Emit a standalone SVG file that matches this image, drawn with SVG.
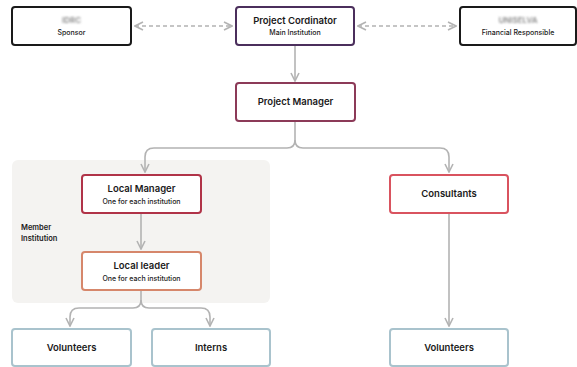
<svg xmlns="http://www.w3.org/2000/svg" width="577" height="367" viewBox="0 0 577 367">
<style>
.box{fill:#fff;stroke-width:2}
.t{font-family:Inter,"Liberation Sans",sans-serif;font-weight:600;font-size:9.5px;fill:#1a1a1a;text-anchor:middle}
.s{font-family:Inter,"Liberation Sans",sans-serif;font-weight:500;font-size:7px;fill:#1a1a1a;text-anchor:middle}
.bl{font-family:Inter,"Liberation Sans",sans-serif;font-weight:600;font-size:8px;fill:#8a8a8a;text-anchor:middle;filter:url(#blur)}
.c{fill:none;stroke:#b3b3b3;stroke-width:1.6}
.d{fill:none;stroke:#b3b3b3;stroke-width:1.4;stroke-dasharray:4 3}
.m{font-family:Inter,"Liberation Sans",sans-serif;font-weight:600;font-size:7.5px;fill:#1a1a1a}
</style>
<defs>
<filter id="blur" x="-20%" y="-50%" width="140%" height="200%"><feGaussianBlur stdDeviation="0.9"/></filter>
<marker id="a" viewBox="0 0 10 10" refX="9" refY="5" markerWidth="10" markerHeight="10" markerUnits="userSpaceOnUse" orient="auto-start-reverse">
<path d="M1 1 L9 5 L1 9" fill="none" stroke="#b3b3b3" stroke-width="1.6"/>
</marker>
</defs>
<rect x="12" y="160" width="258" height="143" rx="6" fill="#f4f3f1"/>
<text class="m" x="21" y="230">Member</text>
<text class="m" x="21" y="241">Institution</text>
<g id="connectors">
<path class="d" d="M135 26 H232" marker-start="url(#a)" marker-end="url(#a)"/>
<path class="d" d="M358 26 H456" marker-start="url(#a)" marker-end="url(#a)"/>
<path class="c" d="M295 46 V81" marker-end="url(#a)"/>
<path class="c" d="M295 122 V140 Q295 148 287 148 H154 Q145 148 145 157 V172" marker-end="url(#a)"/>
<path class="c" d="M295 140 Q295 148 303 148 H440 Q449 148 449 157 V172" marker-end="url(#a)"/>
<path class="c" d="M141 214 V249" marker-end="url(#a)"/>
<path class="c" d="M141 291 V300 Q141 308 133 308 H79 Q70 308 70 317 V326" marker-end="url(#a)"/>
<path class="c" d="M141 300 Q141 308 149 308 H201 Q210 308 210 317 V326" marker-end="url(#a)"/>
<path class="c" d="M449 214 V326" marker-end="url(#a)"/>
</g>
<g id="sponsor"><rect class="box" x="12" y="7" width="119" height="38" rx="3" stroke="#1a1a1a"/><text class="bl" x="71.5" y="23">IDRC</text><text class="s" x="71.5" y="35">Sponsor</text></g>
<g id="coordinator"><rect class="box" x="236" y="7" width="118" height="38" rx="3" stroke="#4b2f5c"/><text class="t" x="295" y="24">Project Cordinator</text><text class="s" x="295" y="35">Main Institution</text></g>
<g id="financial"><rect class="box" x="460" y="7" width="116" height="38" rx="3" stroke="#1a1a1a"/><text class="bl" x="518" y="23">UNISELVA</text><text class="s" x="518" y="35">Financial Responsible</text></g>
<g id="pm"><rect class="box" x="236" y="83" width="119" height="38" rx="3" stroke="#8c3a58"/><text class="t" x="295.5" y="105">Project Manager</text></g>
<g id="localmanager"><rect class="box" x="82" y="175" width="119" height="38" rx="3" stroke="#b03348"/><text class="t" x="141.5" y="192">Local Manager</text><text class="s" x="141.5" y="204">One for each institution</text></g>
<g id="localleader"><rect class="box" x="82" y="252" width="119" height="38" rx="3" stroke="#d6876b"/><text class="t" x="141.5" y="269">Local leader</text><text class="s" x="141.5" y="281">One for each institution</text></g>
<g id="consultants"><rect class="box" x="390" y="175" width="118" height="38" rx="3" stroke="#d9535f"/><text class="t" x="449" y="197">Consultants</text></g>
<g id="volunteers1"><rect class="box" x="12" y="329" width="119" height="37" rx="3" stroke="#a9c3cd"/><text class="t" x="71.5" y="351">Volunteers</text></g>
<g id="interns"><rect class="box" x="152" y="329" width="118" height="37" rx="3" stroke="#a9c3cd"/><text class="t" x="211" y="351">Interns</text></g>
<g id="volunteers2"><rect class="box" x="390" y="329" width="118" height="37" rx="3" stroke="#a9c3cd"/><text class="t" x="449" y="351">Volunteers</text></g>
</svg>
